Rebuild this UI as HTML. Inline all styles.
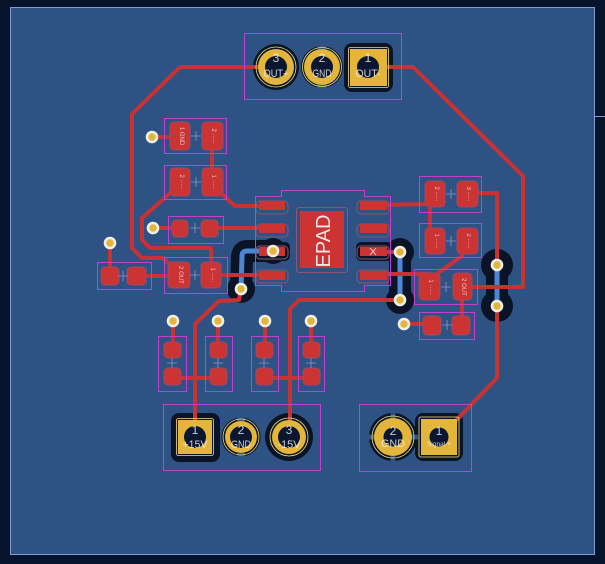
<!DOCTYPE html>
<html><head><meta charset="utf-8"><style>
html,body{margin:0;padding:0;background:#06132b;}
svg{display:block;}
text{font-family:"Liberation Sans",sans-serif;}
</style></head><body>
<svg width="605" height="564" viewBox="0 0 605 564" xmlns="http://www.w3.org/2000/svg">
<rect width="605" height="564" fill="#06132b"/>
<rect x="10.5" y="7.5" width="584" height="547" fill="#2e5283" stroke="#7f9dd0" stroke-width="1"/>
<line x1="595" y1="116.5" x2="605" y2="116.5" stroke="#7f9dd0" stroke-width="1"/>

<!-- clearance (black) -->
<g fill="#0a1426" stroke="none">
  <!-- top connector -->
  <circle cx="276" cy="67" r="23"/>
  <circle cx="322" cy="67" r="21"/>
  <rect x="344" y="43" width="49" height="49" rx="8"/>
  <!-- bottom connector J2 -->
  <rect x="171" y="413" width="49" height="49" rx="8"/>
  <circle cx="241" cy="437" r="19.5"/>
  <circle cx="289" cy="437" r="24"/>
  <!-- J3 -->
  <circle cx="393" cy="437" r="24"/>
  <rect x="415" y="413" width="48" height="48" rx="8"/>
  <!-- IC left -->
  <rect x="254" y="242" width="36" height="19" rx="5"/>
  <circle cx="273" cy="251" r="13"/>
  <circle cx="241" cy="289" r="14"/>
  <!-- IC right -->
  <rect x="356" y="242" width="36" height="19" rx="5"/>
  <circle cx="400" cy="252" r="14"/>
  <circle cx="400" cy="300" r="14"/>
  <!-- right vias -->
  <circle cx="497" cy="265" r="16"/>
  <circle cx="497" cy="306" r="16"/>
</g>
<g fill="none" stroke="#0a1426" stroke-linecap="round" stroke-linejoin="round">
  <path d="M273,251 L247,251 Q242,251 242,258 L241,289" stroke-width="22"/>
  <path d="M400,252 L400,300" stroke-width="22"/>
  <path d="M497,265 L497,306" stroke-width="22"/>
</g>
<!-- thermal spokes -->
<g fill="#2e5283">
  <rect x="317.5" y="45" width="9" height="5"/>
  <rect x="317.5" y="84" width="9" height="5"/>
  <rect x="237" y="416" width="8" height="5"/>
  <rect x="237" y="453" width="8" height="5"/>
  <rect x="390.5" y="412" width="5" height="7"/>
  <rect x="390.5" y="455" width="5" height="7"/>
  <rect x="368" y="434.5" width="7" height="5"/>
  <rect x="411" y="434.5" width="7" height="5"/>
</g>

<!-- bottom layer traces -->
<g fill="none" stroke="#4b87d4" stroke-width="5" stroke-linecap="round" stroke-linejoin="round">
  <path d="M273,251 L247,251 Q242,251 242,256 L241,289"/>
  <path d="M400,252 L400,300"/>
  <path d="M497,265 L497,306"/>
</g>

<!-- top traces -->
<g fill="none" stroke="#c83232" stroke-width="4" stroke-linecap="round" stroke-linejoin="round">
  <path d="M276,67 L180,67 L132,114 L132,248 L142,258 L163,258 L178,272"/>
  <path d="M368,67 L413,67 L523,176 L523,287 L462,287"/>
  <path d="M152,137 L180,137"/>
  <path d="M212,136 L212,182"/>
  <path d="M212,185 L235,206 L272,206"/>
  <path d="M180,182 L168,195 L142,218 L142,240 L150,248 L211,248 L211,275"/>
  <path d="M153,228 L180,228"/>
  <path d="M210,228 L272,228"/>
  <path d="M110,243 L110,276"/>
  <path d="M137,276 L180,276"/>
  <path d="M211,275 L272,275"/>
  <path d="M241,289 L239,300 L219,301 L195,324 L195,437"/>
  <path d="M400,300 L299,300 L290,309 L290,437"/>
  <path d="M373,252 L400,252"/>
  <path d="M372,205 L430,204"/>
  <path d="M430,195 L430,240"/>
  <path d="M467,193 L497,193 L497,265"/>
  <path d="M462,250 L462,256 L441,271 L428,280"/>
  <path d="M372,274 L428,274"/>
  <path d="M462,287 L462,325"/>
  <path d="M404,324 L432,324"/>
  <path d="M497,306 L497,378 L440,437"/>
  <path d="M173,321 L173,350"/>
  <path d="M218,321 L218,350"/>
  <path d="M265,321 L265,350"/>
  <path d="M311,321 L311,350"/>
  <path d="M173,378 L218,378"/>
  <path d="M265,378 L311,378"/>
</g>

<!-- SMD pads -->
<g fill="#cc3434" stroke="#9a4a6a" stroke-width="1">
  <!-- C1 -->
  <rect x="170" y="122" width="20" height="28" rx="4"/>
  <rect x="202" y="122" width="21" height="28" rx="4"/>
  <!-- C2 -->
  <rect x="170" y="168" width="20" height="28" rx="4"/>
  <rect x="202" y="168" width="21" height="28" rx="4"/>
  <!-- C4 -->
  <rect x="172" y="220" width="16" height="17" rx="4"/>
  <rect x="201" y="220" width="17" height="17" rx="4"/>
  <!-- C3 -->
  <rect x="168" y="262" width="22" height="26" rx="4"/>
  <rect x="201" y="262" width="20" height="26" rx="4"/>
  <!-- C5 -->
  <rect x="101" y="267" width="18" height="18" rx="4"/>
  <rect x="127" y="267" width="19" height="18" rx="4"/>
  <!-- R1..R4 -->
  <rect x="425" y="181" width="20" height="26" rx="4"/>
  <rect x="457" y="181" width="21" height="26" rx="4"/>
  <rect x="425" y="228" width="20" height="26" rx="4"/>
  <rect x="457" y="228" width="21" height="26" rx="4"/>
  <rect x="419" y="273" width="21" height="27" rx="4"/>
  <rect x="453" y="273" width="19" height="27" rx="4"/>
  <rect x="423" y="316" width="18" height="19" rx="4"/>
  <rect x="452" y="316" width="18" height="19" rx="4"/>
  <!-- bottom small -->
  <rect x="164" y="342" width="17" height="16" rx="4"/>
  <rect x="164" y="368" width="17" height="17" rx="4"/>
  <rect x="210" y="342" width="17" height="16" rx="4"/>
  <rect x="210" y="368" width="17" height="17" rx="4"/>
  <rect x="256" y="342" width="17" height="16" rx="4"/>
  <rect x="256" y="368" width="17" height="17" rx="4"/>
  <rect x="303" y="342" width="17" height="16" rx="4"/>
  <rect x="303" y="368" width="17" height="17" rx="4"/>
</g>

<!-- IC pads -->
<g fill="none" stroke="#8e5670" stroke-width="1">
  <rect x="256" y="201" width="32" height="13" rx="4"/>
  <rect x="256" y="224" width="32" height="13" rx="4"/>
  <rect x="256" y="246" width="32" height="13" rx="4"/>
  <rect x="256" y="270" width="32" height="13" rx="4"/>
  <rect x="357" y="201" width="32" height="13" rx="4"/>
  <rect x="357" y="224" width="32" height="13" rx="4"/>
  <rect x="357" y="246" width="32" height="13" rx="4"/>
  <rect x="357" y="270" width="32" height="13" rx="4"/>
  <rect x="296.5" y="207.5" width="51" height="65" rx="3"/>
</g>
<g fill="#cc3434">
  <rect x="259" y="201" width="26" height="9"/>
  <rect x="259" y="224" width="26" height="9"/>
  <rect x="259" y="247" width="26" height="9"/>
  <rect x="259" y="271" width="26" height="9"/>
  <rect x="360" y="201" width="27" height="9"/>
  <rect x="360" y="224" width="27" height="9"/>
  <rect x="360" y="247" width="27" height="9"/>
  <rect x="360" y="271" width="27" height="9"/>
  <rect x="300" y="211" width="44" height="57"/>
</g>
<text x="0" y="0" transform="translate(330,241) rotate(-90)" text-anchor="middle" font-size="20" fill="#f2e8e8">EPAD</text>
<g stroke="#f0d8d8" stroke-width="0.9">
  <line x1="370" y1="248" x2="376" y2="255"/>
  <line x1="376" y1="248" x2="370" y2="255"/>
</g>

<!-- courtyards -->
<g fill="none" stroke="#c23fd0" stroke-width="1">
  <rect x="244.5" y="33.5" width="157" height="66"/>
  <rect x="164.5" y="118.5" width="62" height="35"/>
  <rect x="164.5" y="165.5" width="62" height="34"/>
  <rect x="168.5" y="216.5" width="55" height="27"/>
  <rect x="164.5" y="257.5" width="63" height="36"/>
  <rect x="97.5" y="262.5" width="54" height="27"/>
  <rect x="419.5" y="176.5" width="62" height="36"/>
  <rect x="419.5" y="223.5" width="62" height="34"/>
  <rect x="414.5" y="269.5" width="63" height="35"/>
  <rect x="419.5" y="312.5" width="55" height="27"/>
  <rect x="158.5" y="336.5" width="28" height="55"/>
  <rect x="205.5" y="336.5" width="27" height="55"/>
  <rect x="251.5" y="336.5" width="27" height="55"/>
  <rect x="298.5" y="336.5" width="26" height="55"/>
  <rect x="163.5" y="404.5" width="157" height="66"/>
  <rect x="359.5" y="404.5" width="112" height="67"/>
  <path d="M281.5,196.5 L281.5,190.5 L364.5,190.5 L364.5,196.5 L390.5,196.5 L390.5,285.5 L364.5,285.5 L364.5,291.5 L281.5,291.5 L281.5,285.5 L255.5,285.5 L255.5,196.5 Z"/>
</g>

<!-- silkscreen crosses -->
<g stroke="#9fa8d8" stroke-width="0.8" opacity="0.8">
  <path d="M196,131 v10 M191,136 h10"/>
  <path d="M196,177 v10 M191,182 h10"/>
  <path d="M195,223 v10 M190,228 h10"/>
  <path d="M195,270 v10 M190,275 h10"/>
  <path d="M123,271 v10 M118,276 h10"/>
  <path d="M451,189 v10 M446,194 h10"/>
  <path d="M451,236 v10 M446,241 h10"/>
  <path d="M446,282 v10 M441,287 h10"/>
  <path d="M447,320 v10 M442,325 h10"/>
  <path d="M172,358 v10 M167,363 h10"/>
  <path d="M218,358 v10 M213,363 h10"/>
  <path d="M264,358 v10 M259,363 h10"/>
  <path d="M311,358 v10 M306,363 h10"/>
</g>

<!-- tiny component labels -->
<g font-size="6" fill="#f0e0e0" opacity="0.85" text-anchor="middle">
  <text transform="translate(180,136) rotate(90)">1 GND</text>
  <text transform="translate(212,136) rotate(90)">2 ·····</text>
  <text transform="translate(180,182) rotate(90)">2 ·····</text>
  <text transform="translate(212,182) rotate(90)">1 ·····</text>
  <text transform="translate(179,275) rotate(90)">2 OUT</text>
  <text transform="translate(211,275) rotate(90)">1 ·····</text>
  <text transform="translate(435,194) rotate(90)">2 ·····</text>
  <text transform="translate(467,194) rotate(90)">3 ·····</text>
  <text transform="translate(435,241) rotate(90)">1 ·····</text>
  <text transform="translate(467,241) rotate(90)">2 ·····</text>
  <text transform="translate(429,287) rotate(90)">1 ·····</text>
  <text transform="translate(462,287) rotate(90)">2 OUT</text>
</g>

<!-- THT pads -->
<g fill="#e3b53a">
  <circle cx="276" cy="67" r="18"/>
  <circle cx="322" cy="67" r="18"/>
  <rect x="350" y="49" width="37" height="37"/>
  <rect x="178" y="420" width="34" height="34"/>
  <circle cx="241" cy="437" r="16"/>
  <circle cx="289" cy="437" r="17"/>
  <circle cx="393" cy="437" r="19"/>
  <rect x="421" y="419" width="36" height="36"/>
</g>
<g fill="none" stroke="#f3e27a" stroke-width="0.8">
  <circle cx="276" cy="67" r="20"/>
  <circle cx="322" cy="67" r="19.5"/>
  <rect x="348.5" y="47.5" width="40" height="40" rx="2"/>
  <rect x="176.5" y="418.5" width="37" height="37" rx="2"/>
  <circle cx="241" cy="437" r="18"/>
  <circle cx="289" cy="437" r="19"/>
  <circle cx="393" cy="437" r="21"/>
  <rect x="419" y="417" width="40" height="40" rx="2"/>
</g>
<g fill="#0b1730">
  <circle cx="276" cy="67" r="11"/>
  <circle cx="322" cy="67" r="11"/>
  <circle cx="368" cy="67" r="11"/>
  <circle cx="195" cy="437" r="11"/>
  <circle cx="241" cy="437" r="11"/>
  <circle cx="289" cy="437" r="11"/>
  <circle cx="393" cy="437" r="9.5"/>
  <circle cx="439" cy="437" r="9.5"/>
</g>

<!-- vias -->
<g>
  <g fill="#f0efe6">
    <circle cx="152" cy="137" r="6.3"/>
    <circle cx="153" cy="228" r="6.3"/>
    <circle cx="110" cy="243" r="6.3"/>
    <circle cx="273" cy="251" r="6.3"/>
    <circle cx="241" cy="289" r="6.3"/>
    <circle cx="400" cy="252" r="6.3"/>
    <circle cx="400" cy="300" r="6.3"/>
    <circle cx="497" cy="265" r="6.3"/>
    <circle cx="497" cy="306" r="6.3"/>
    <circle cx="404" cy="324" r="6.3"/>
    <circle cx="173" cy="321" r="6.3"/>
    <circle cx="218" cy="321" r="6.3"/>
    <circle cx="265" cy="321" r="6.3"/>
    <circle cx="311" cy="321" r="6.3"/>
  </g>
  <g fill="#e3b53a">
    <circle cx="152" cy="137" r="3.7"/>
    <circle cx="153" cy="228" r="3.7"/>
    <circle cx="110" cy="243" r="3.7"/>
    <circle cx="273" cy="251" r="3.7"/>
    <circle cx="241" cy="289" r="3.7"/>
    <circle cx="400" cy="252" r="3.7"/>
    <circle cx="400" cy="300" r="3.7"/>
    <circle cx="497" cy="265" r="3.7"/>
    <circle cx="497" cy="306" r="3.7"/>
    <circle cx="404" cy="324" r="3.7"/>
    <circle cx="173" cy="321" r="3.7"/>
    <circle cx="218" cy="321" r="3.7"/>
    <circle cx="265" cy="321" r="3.7"/>
    <circle cx="311" cy="321" r="3.7"/>
  </g>
</g>

<!-- connector labels -->
<g fill="#eeeeee" opacity="0.85" text-anchor="middle">
  <text x="276" y="62" font-size="12">3</text>
  <text x="276" y="77" font-size="11" textLength="25" lengthAdjust="spacingAndGlyphs">OUT+</text>
  <text x="322" y="62" font-size="12">2</text>
  <text x="322" y="77" font-size="11" textLength="19" lengthAdjust="spacingAndGlyphs">GND</text>
  <text x="368" y="62" font-size="12">1</text>
  <text x="368" y="77" font-size="11" textLength="25" lengthAdjust="spacingAndGlyphs">OUT-</text>
  <text x="195" y="434" font-size="12">1</text>
  <text x="195" y="448" font-size="11" textLength="25" lengthAdjust="spacingAndGlyphs">+15V</text>
  <text x="241" y="434" font-size="12">2</text>
  <text x="241" y="448" font-size="11" textLength="20" lengthAdjust="spacingAndGlyphs">GND</text>
  <text x="289" y="434" font-size="12">3</text>
  <text x="289" y="448" font-size="11" textLength="23" lengthAdjust="spacingAndGlyphs">-15V</text>
  <text x="393" y="435" font-size="12">2</text>
  <text x="393" y="447" font-size="11" textLength="24" lengthAdjust="spacingAndGlyphs">GND</text>
  <text x="439" y="435" font-size="12">1</text>
  <text x="439" y="446" font-size="6" textLength="24" lengthAdjust="spacingAndGlyphs">Signal +</text>
</g>
</svg>
</body></html>
